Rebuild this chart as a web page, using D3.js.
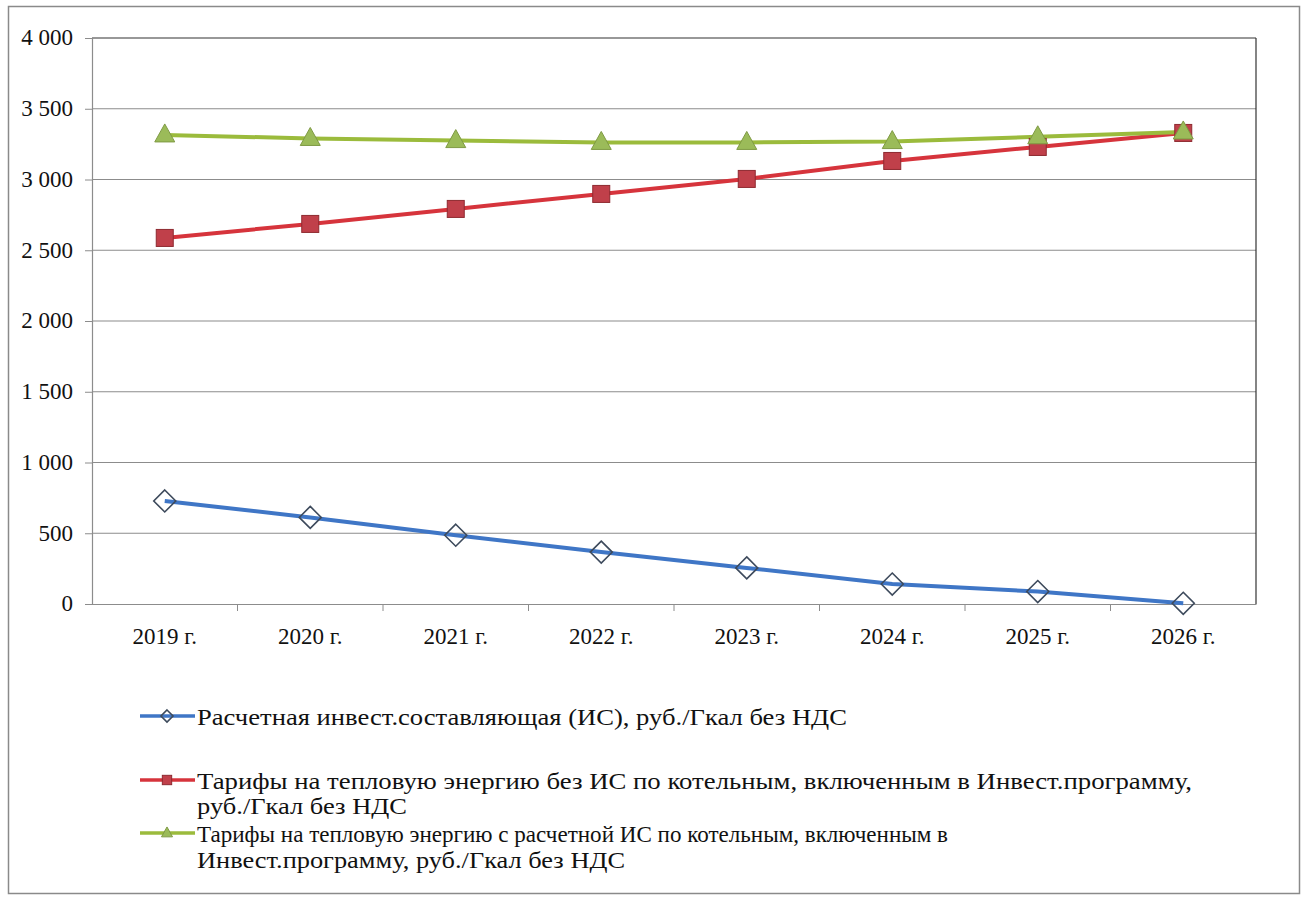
<!DOCTYPE html>
<html><head><meta charset="utf-8">
<script src="https://cdn.jsdelivr.net/npm/d3@7"></script>
<style>body{margin:0;background:#fff}svg{display:block}
text.sf{font-family:"Liberation Serif";}</style>
</head><body>
<svg id="c" width="1303" height="898"></svg>
<script>
const categories = ["2019 г.","2020 г.","2021 г.","2022 г.","2023 г.","2024 г.","2025 г.","2026 г."];
const investComponent = [728, 612, 486, 367, 255, 141, 88, 5];
const tariffWithoutIS = [2587, 2686, 2792, 2898, 3004, 3131, 3230, 3329];
const tariffWithIS = [3315, 3290, 3275, 3262, 3262, 3268, 3302, 3336];
const yTicks = [0, 500, 1000, 1500, 2000, 2500, 3000, 3500, 4000];
const seriesNames = [
  ["Расчетная инвест.составляющая (ИС), руб./Гкал без НДС"],
  ["Тарифы на тепловую энергию без ИС по котельным, включенным в Инвест.программу,", "руб./Гкал без НДС"],
  ["Тарифы на тепловую энергию с расчетной ИС по котельным, включенным в", "Инвест.программу,  руб./Гкал без НДС"]
];

const svg = d3.select("#c");
const L = 92, R = 1256, T = 38, B = 604;

svg.append("rect").attr("x",8.5).attr("y",6.5).attr("width",1291).attr("height",887)
  .attr("fill","#fff").attr("stroke","#8a8a8a").attr("stroke-width",1.5);

const x = d3.scaleBand().domain(categories).range([L, R]);
const y = d3.scaleLinear().domain([0, 4000]).range([B, T]);
const fmt = v => d3.format(",")(v).replace(/,/g, " ");

svg.append("g").selectAll("line").data(yTicks.filter(v => v > 0)).join("line")
  .attr("x1", L).attr("x2", R).attr("y1", d => y(d)).attr("y2", d => y(d))
  .attr("stroke", d => d === 4000 ? "#333" : "#8c8c8c").attr("stroke-width", 1.2);

svg.append("line").attr("x1",R).attr("x2",R).attr("y1",T).attr("y2",B).attr("stroke","#333").attr("stroke-width",1.2);

const yAxis = svg.append("g").attr("transform",`translate(${L},0)`)
  .call(d3.axisLeft(y).tickValues(yTicks).tickFormat(fmt).tickSize(7).tickPadding(12));
yAxis.attr("font-family", null).attr("font-size", null);
yAxis.select(".domain").attr("stroke","#8c8c8c").attr("stroke-width",1.2);
yAxis.selectAll(".tick line").attr("stroke","#8c8c8c");
yAxis.selectAll("text").attr("class","sf").attr("font-size",23).attr("fill","#111").attr("dy","0.3em");

const xAxis = svg.append("g").attr("transform",`translate(0,${B})`)
  .call(d3.axisBottom(x).tickSize(0).tickPadding(26));
xAxis.attr("font-family", null).attr("font-size", null);
xAxis.select(".domain").attr("stroke","#8c8c8c").attr("stroke-width",1.2);
xAxis.selectAll("text").attr("class","sf").attr("font-size",23).attr("fill","#111").attr("y",40).attr("dy",0);
svg.append("g").selectAll("line").data(categories.slice(1)).join("line")
  .attr("x1", d => x(d)).attr("x2", d => x(d)).attr("y1", B).attr("y2", B+7)
  .attr("stroke","#8c8c8c");

const cx = d => x(d) + x.bandwidth()/2;
const line = d3.line().x((d,i) => cx(categories[i])).y(d => y(d));

const series = [
  {vals: investComponent, color: "#3F76C6", marker: "diamond"},
  {vals: tariffWithoutIS, color: "#D6343C", marker: "square"},
  {vals: tariffWithIS, color: "#9BBB3C", marker: "triangle"}
];

function drawMarker(g, type, px, py, color, scale) {
  const s = scale || 1;
  if (type === "diamond") {
    g.append("path").attr("d", `M${px},${py-11*s}L${px+11*s},${py}L${px},${py+11*s}L${px-11*s},${py}Z`)
      .attr("fill","none").attr("stroke","#3d4a5c").attr("stroke-width",1.6);
  } else if (type === "square") {
    g.append("rect").attr("x",px-8.5*s).attr("y",py-8.5*s).attr("width",17*s).attr("height",17*s)
      .attr("fill","#C0404A").attr("stroke","#8e2a30").attr("stroke-width",1);
  } else {
    g.append("path").attr("d", `M${px},${py-11*s}L${px+10*s},${py+7*s}L${px-10*s},${py+7*s}Z`)
      .attr("fill","#9BBB59").attr("stroke","#7f9a44").attr("stroke-width",1);
  }
}

series.forEach(s => {
  svg.append("path").datum(s.vals).attr("d", line).attr("fill","none")
    .attr("stroke", s.color).attr("stroke-width", 4);
});
series.forEach(s => {
  const g = svg.append("g");
  s.vals.forEach((v,i) => drawMarker(g, s.marker, cx(categories[i]), y(v), s.color));
});

const legY = [[717],[781,806],[834,860]];
const legW = [[650],[995,210],[751,428]];
series.forEach((s,i) => {
  const g = svg.append("g");
  const ly = legY[i][0] - 1;
  g.append("line").attr("x1",140).attr("x2",195).attr("y1",ly).attr("y2",ly)
    .attr("stroke",s.color).attr("stroke-width",3.5);
  drawMarker(g, s.marker, 167, ly, s.color, 0.55);
  seriesNames[i].forEach((t,j) => {
    g.append("text").attr("class","sf").attr("x",197).attr("y",legY[i][j]+8).text(t)
      .attr("textLength", legW[i][j]).attr("lengthAdjust","spacingAndGlyphs")
      .attr("font-size",23).attr("fill","#111");
  });
});
</script>
</body></html>
